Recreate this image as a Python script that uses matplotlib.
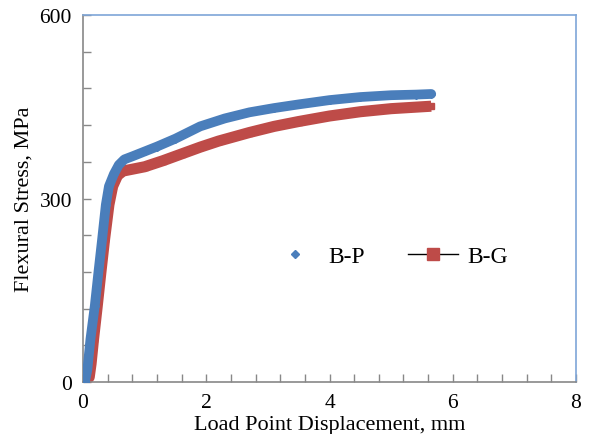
import matplotlib
matplotlib.use("Agg")
import matplotlib.pyplot as plt
from matplotlib.lines import Line2D
from matplotlib.ticker import MultipleLocator

plt.rcParams['font.family'] = ['Liberation Serif', 'DejaVu Serif']

# B-P (blue diamonds)
bp_x = [0.03, 0.07, 0.12, 0.19, 0.25, 0.31, 0.37, 0.42, 0.50, 0.58, 0.67, 0.80, 1.00,
        1.20, 1.50, 1.90, 2.30, 2.70, 3.10, 3.50, 4.00, 4.50, 5.00, 5.40, 5.65]
bp_y = [0, 20, 70, 124, 180, 234, 290, 320, 340, 355, 364, 369, 377,
        385, 398, 418, 431, 441, 448, 454, 461, 466, 469, 470, 471]

# B-G (red squares)
bg_x = [0.00, 0.06, 0.10, 0.13, 0.17, 0.23, 0.29, 0.35, 0.42, 0.48, 0.56, 0.65, 0.80,
        1.00, 1.30, 1.60, 1.90, 2.20, 2.70, 3.10, 3.50, 4.00, 4.50, 5.00, 5.65]
bg_y = [14, 4, 8, 30, 70, 124, 180, 234, 290, 320, 338, 345, 348,
        352, 362, 373, 384, 394, 408, 418, 426, 435, 442, 447, 451]

blue = '#4a7ebb'
red = '#be4b48'

fig = plt.figure(figsize=(5.89, 4.35), dpi=100)
ax = fig.add_axes([0.141, 0.1195, 0.837, 0.8435])

ax.plot(bg_x, bg_y, color=red, lw=8, solid_capstyle='butt', solid_joinstyle='round', zorder=2)
ax.plot(bg_x, bg_y, 's', color=red, ms=5, zorder=2)
ax.plot(bp_x, bp_y, color=blue, lw=7, solid_capstyle='round', solid_joinstyle='round', zorder=3)
ax.plot(bp_x, bp_y, 'D', color=blue, ms=4, zorder=3)

ax.set_xlim(0, 8)
ax.set_ylim(0, 600)
ax.xaxis.set_major_locator(MultipleLocator(2))
ax.xaxis.set_minor_locator(MultipleLocator(0.4))
ax.yaxis.set_major_locator(MultipleLocator(300))
ax.yaxis.set_minor_locator(MultipleLocator(60))
ax.tick_params(which='both', direction='in', length=6, width=1, color='#888888',
               labelsize=15.5, top=False, right=False)
ax.tick_params(axis='x', pad=8)
ax.tick_params(axis='y', pad=8)

for s in ['left', 'bottom']:
    ax.spines[s].set_color('#888888')
for s in ['top', 'right']:
    ax.spines[s].set_color('#7ea6d8')
for s in ax.spines.values():
    s.set_linewidth(1.2)

ax.set_xlabel('Load Point Displacement, mm', fontsize=16, labelpad=2)
ax.set_ylabel('Flexural Stress, MPa', fontsize=16, labelpad=4)

handles = [Line2D([], [], linestyle='none', marker='D', color=blue, ms=4),
           Line2D([], [], color='black', lw=1, marker='s', markerfacecolor=red,
                  markeredgecolor=red, ms=8)]
ax.legend(handles, ['B-P', 'B-G'], ncol=2, frameon=False, fontsize=17,
          loc='center', bbox_to_anchor=(0.62, 0.343), handlelength=2.1,
          columnspacing=1.8, handletextpad=0.4)

fig.savefig('out.png', dpi=100)
